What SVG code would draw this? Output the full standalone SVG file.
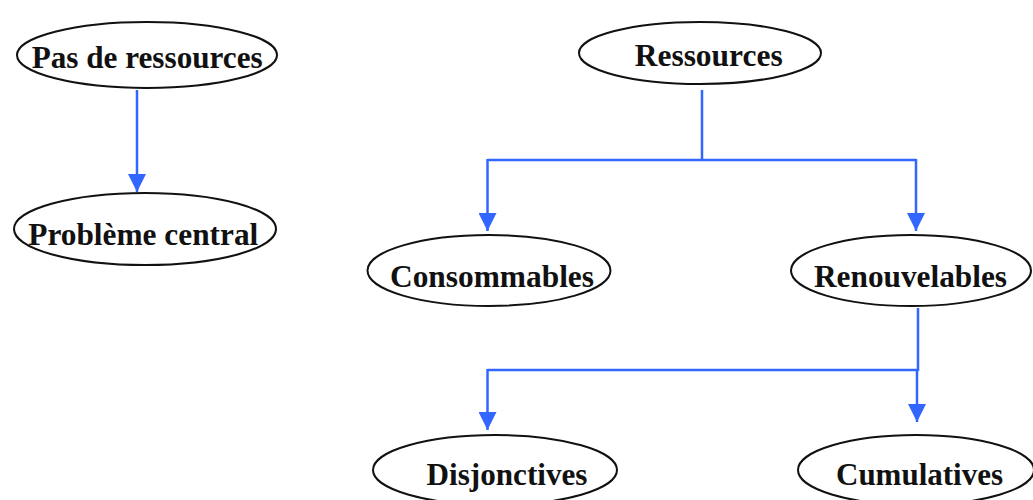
<svg xmlns="http://www.w3.org/2000/svg" width="1033" height="500" viewBox="0 0 1033 500">
  <style>
    .node ellipse { fill: #ffffff; stroke: #111111; stroke-width: 2; }
    .node text { font-family: "Liberation Serif", "Times New Roman", serif; font-weight: bold; font-size: 31px; fill: #111111; }
    .edge { fill: none; stroke: #3366ff; stroke-width: 2.5; }
  </style>
  <defs>
    <marker id="arrow" markerUnits="userSpaceOnUse" markerWidth="18" markerHeight="18" refX="18" refY="9" orient="auto">
      <path d="M0,0 L18,9 L0,18 Z" fill="#3366ff"/>
    </marker>
  </defs>
  <rect width="1033" height="500" fill="#ffffff"/>

  <g id="connectors">
    <line class="edge" x1="137" y1="90" x2="137" y2="192" marker-end="url(#arrow)"/>
    <line class="edge" x1="702" y1="90" x2="702" y2="160"/>
    <line class="edge" x1="487.5" y1="160" x2="916" y2="160"/>
    <polyline class="edge" points="487.5,159 487.5,231" marker-end="url(#arrow)"/>
    <polyline class="edge" points="916,159 916,231" marker-end="url(#arrow)"/>
    <line class="edge" x1="918" y1="308" x2="918" y2="371"/>
    <line class="edge" x1="487.5" y1="370" x2="918" y2="370"/>
    <polyline class="edge" points="487.5,369 487.5,430" marker-end="url(#arrow)"/>
    <polyline class="edge" points="917,370 917,422" marker-end="url(#arrow)"/>
  </g>

  <g id="pas-de-ressources" class="node">
    <ellipse cx="147" cy="55" rx="130" ry="33"/>
    <text x="31.7" y="68" textLength="231" lengthAdjust="spacingAndGlyphs">Pas de ressources</text>
  </g>
  <g id="probleme-central" class="node">
    <ellipse cx="145" cy="229" rx="131" ry="36"/>
    <text x="28.3" y="245" textLength="230" lengthAdjust="spacingAndGlyphs">Problème central</text>
  </g>
  <g id="ressources" class="node">
    <ellipse cx="700" cy="53" rx="121" ry="31"/>
    <text x="634.7" y="66" textLength="148" lengthAdjust="spacingAndGlyphs">Ressources</text>
  </g>
  <g id="consommables" class="node">
    <ellipse cx="489" cy="270.5" rx="121.5" ry="35.5"/>
    <text x="390" y="287" textLength="204" lengthAdjust="spacingAndGlyphs">Consommables</text>
  </g>
  <g id="renouvelables" class="node">
    <ellipse cx="911" cy="270.5" rx="120" ry="35.5"/>
    <text x="814" y="287" textLength="193" lengthAdjust="spacingAndGlyphs">Renouvelables</text>
  </g>
  <g id="disjonctives" class="node">
    <ellipse cx="495" cy="470" rx="122" ry="35"/>
    <text x="426.5" y="485" textLength="161" lengthAdjust="spacingAndGlyphs">Disjonctives</text>
  </g>
  <g id="cumulatives" class="node">
    <ellipse cx="916" cy="470" rx="118" ry="35"/>
    <text x="836" y="485" textLength="167" lengthAdjust="spacingAndGlyphs">Cumulatives</text>
  </g>
</svg>
